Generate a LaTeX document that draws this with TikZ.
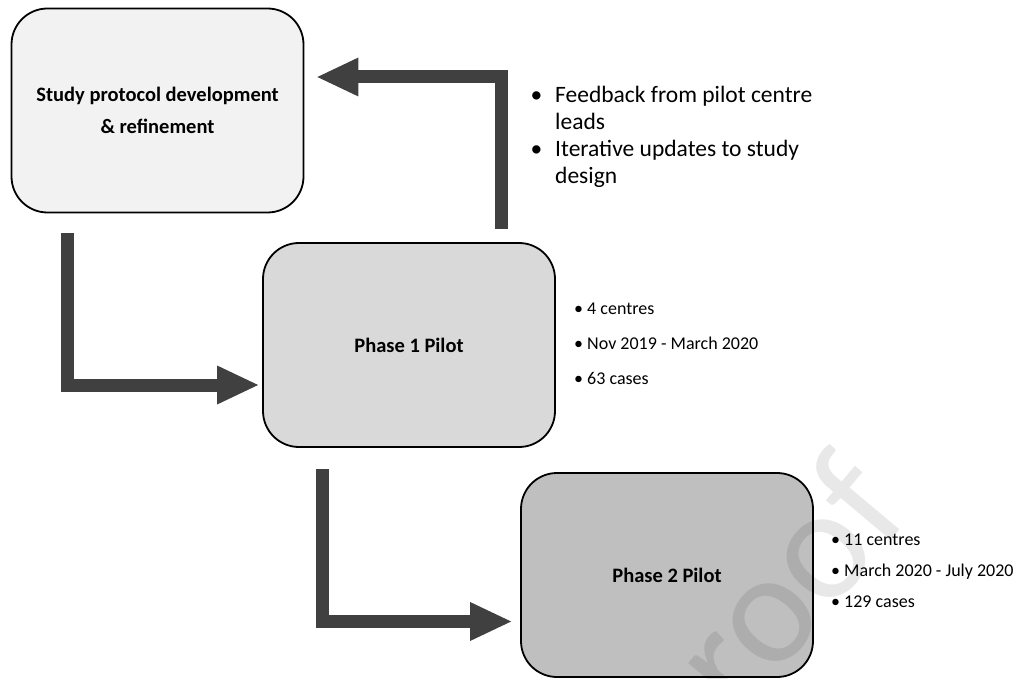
\documentclass[tikz,border=0pt]{standalone}
\usepackage{fontspec}
\setmainfont{Carlito}
\usetikzlibrary{arrows.meta,calc}
\definecolor{arrowgrey}{HTML}{404040}
\definecolor{fillA}{HTML}{F2F2F2}
\definecolor{fillB}{HTML}{D9D9D9}
\definecolor{fillC}{HTML}{BFBFBF}
\begin{document}
\begin{tikzpicture}[x=1pt,y=-1pt,
  box/.style={draw=black, line width=1.8pt, rounded corners=36pt,
    minimum width=292pt, minimum height=204pt, inner sep=0pt, align=center,
    font=\fontsize{20.5}{32}\selectfont\bfseries},
  bigarrow/.style={draw=arrowgrey, line width=13pt,
    -{Triangle[length=41pt,width=39pt,line width=0pt]}},
  biglist/.style={anchor=base west, align=left, inner sep=0pt,
    font=\fontsize{23.5}{27}\selectfont},
  smalllist/.style={anchor=base west, align=left, inner sep=0pt,
    font=\fontsize{18}{35}\selectfont},
  smalllistB/.style={smalllist, font=\fontsize{18}{31}\selectfont}]
\useasboundingbox (0,0) rectangle (1026,679);
\clip (0,0) rectangle (1026,679);

\node[box, fill=fillA] (b1) at (157.5,110.5) {Study protocol development\\\& refinement};
\node[box, fill=fillB] (b2) at (409,345) {Phase 1 Pilot};
\node[box, fill=fillC] (b3) at (667,575) {Phase 2 Pilot};

\draw[bigarrow] ($(b2.north)+(92,-13)$) |- ($(b1.east)+(13,-33.5)$);
\draw[bigarrow] ($(b1.south)+(-90,19.5)$) |- ($(b2.west)+(-4,40)$);
\draw[bigarrow] ($(b2.south)+(-86.5,21)$) |- ($(b3.west)+(-9,46.5)$);

\node[biglist] (fb) at (555,184) {\llap{\textbullet\hspace{13pt}}Feedback from pilot centre\\leads\\\llap{\textbullet\hspace{13pt}}Iterative updates to study\\design};

\node[smalllist] (p1) at (574,384) {• 4 centres\\• Nov 2019 - March 2020\\• 63 cases};
\node[smalllistB] (p2) at (831,607) {• 11 centres\\• March 2020 - July 2020\\• 129 cases};

\node[rotate=50, text=black, text opacity=0.09, font=\fontsize{160}{160}\selectfont] (wm) at (768,622) {proof};
\end{tikzpicture}
\end{document}
